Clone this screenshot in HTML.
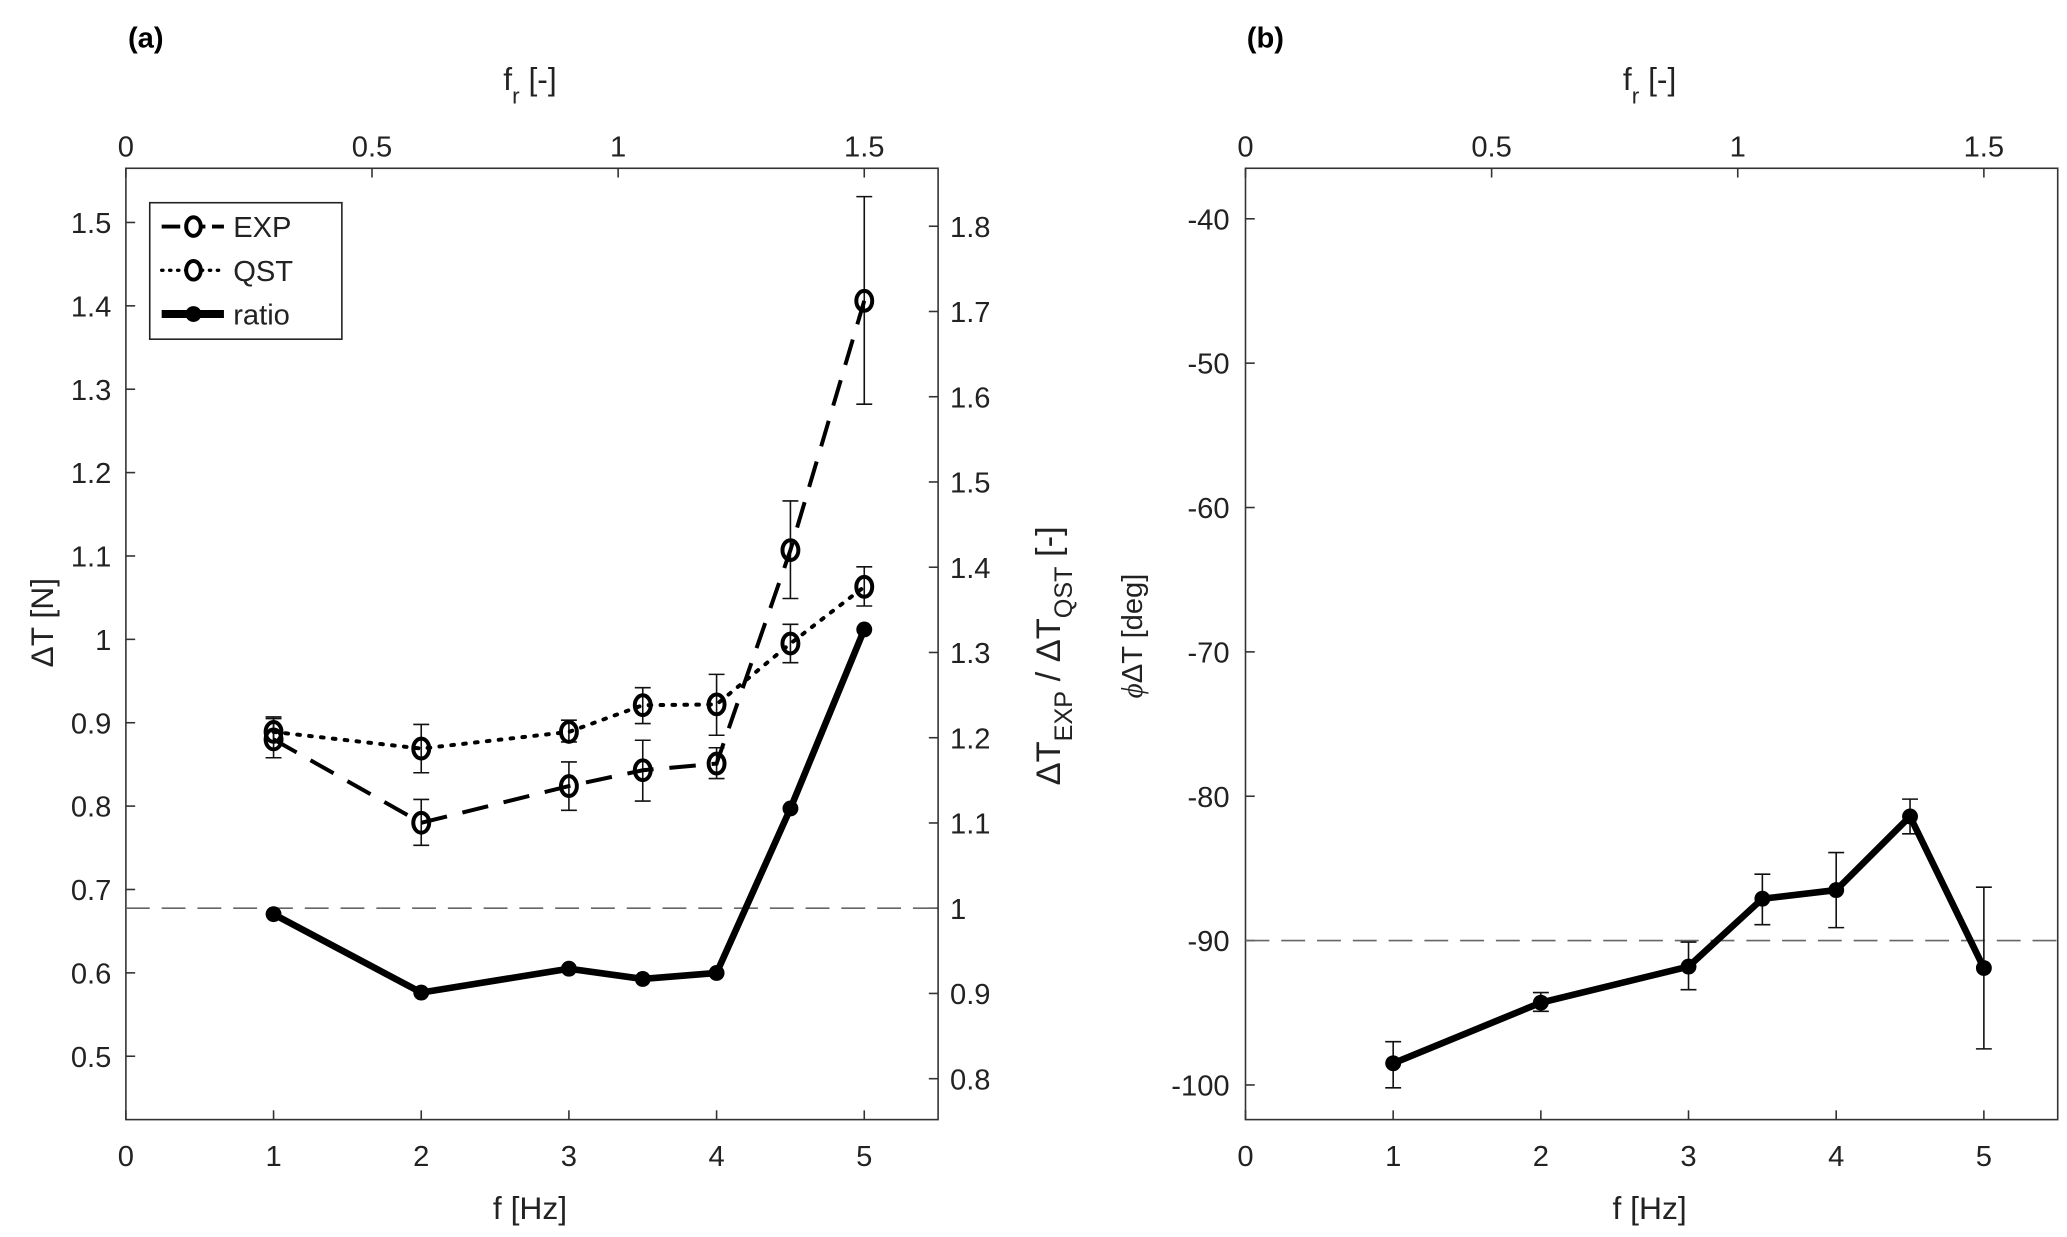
<!DOCTYPE html>
<html><head><meta charset="utf-8"><style>
html,body{margin:0;padding:0;background:#fff;}
svg{display:block;font-family:"Liberation Sans",sans-serif;}
</style></head><body>
<svg id="fig" width="2067" height="1237" viewBox="0 0 1560 933.6" xmlns="http://www.w3.org/2000/svg">
<g id="root"></g>
</svg>
<script>
const freqs=[1,2,3,3.5,4,4.5,5];
const expVals=[0.88,0.78,0.824,0.843,0.851,1.107,1.406];
const expLo=[0.858,0.753,0.795,0.806,0.833,1.049,1.282];
const expHi=[0.905,0.808,0.853,0.879,0.870,1.166,1.531];
const qstVals=[0.889,0.869,0.889,0.921,0.922,0.995,1.063];
const qstLo=[0.878,0.840,0.877,0.899,0.885,0.972,1.040];
const qstHi=[0.907,0.898,0.903,0.942,0.958,1.018,1.087];
const ratioVals=[0.993,0.901,0.929,0.917,0.924,1.117,1.327];
const phaseVals=[-98.5,-94.3,-91.8,-87.1,-86.5,-81.4,-91.9];
const phaseLo=[-100.2,-94.9,-93.4,-88.9,-89.1,-82.6,-97.5];
const phaseHi=[-97.0,-93.6,-90.1,-85.4,-83.9,-80.2,-86.3];
const xTicks=[0,1,2,3,4,5];
const frTicks=[0,0.5,1,1.5];
const leftTicks=[0.5,0.6,0.7,0.8,0.9,1,1.1,1.2,1.3,1.4,1.5];
const rightTicks=[0.8,0.9,1,1.1,1.2,1.3,1.4,1.5,1.6,1.7,1.8];
const phaseTicks=[-100,-90,-80,-70,-60,-50,-40];

const NS="http://www.w3.org/2000/svg";
const root=document.getElementById('root');
function mk(tag,attrs,parent){const e=document.createElementNS(NS,tag);for(const k in attrs)e.setAttribute(k,attrs[k]);(parent||root).appendChild(e);return e;}
function txt(s,x,y,attrs,parent){const e=mk('text',Object.assign({x:x,y:y,'font-size':22,fill:'#222','text-anchor':'middle'},attrs),parent);e.textContent=s;return e;}
function lin(a0,a1,p0,p1){return v=>p0+(v-a0)/(a1-a0)*(p1-p0);}

const T=127,B=845;
const ax=lin(0,5.5,95,708);
const frx=lin(0,1.65,95,708);
const ly=lin(0.424,1.565,B,T);
const ry=lin(0.752,1.868,B,T);
const bx=lin(0,5.5,940,1553);
const bfr=lin(0,1.65,940,1553);
const py=lin(-102.4,-36.5,B,T);

function frame(x0,x1,name){
  const g=mk('g',{});
  
  
  mk('rect',{x:x0,y:T,width:x1-x0,height:B-T,fill:'none',stroke:'#333','stroke-width':1.2},g);
  return g;
}
function xAxes(g,xs,frs){
  xTicks.forEach(t=>{const x=xs(t);mk('line',{x1:x,y1:B,x2:x,y2:B-7,stroke:'#333','stroke-width':1.2},g);
    const l=txt(String(t),x,880,{},g);});
  frTicks.forEach(t=>{const x=frs(t);mk('line',{x1:x,y1:T,x2:x,y2:T+7,stroke:'#333','stroke-width':1.2},g);
    const l=txt(String(t),x,118,{},g);});
}
function errbars(g,xs,ys,lo,hi,name){
  freqs.forEach((f,i)=>{const x=xs(f);
    const e=mk('path',{d:`M${x},${ys(lo[i])}V${ys(hi[i])}M${x-6},${ys(lo[i])}H${x+6}M${x-6},${ys(hi[i])}H${x+6}`,stroke:'#111','stroke-width':1.2,fill:'none'},g);
    });
}
function series(g,xs,ys,vals,opts,name,filled){
  const d=freqs.map((f,i)=>(i?'L':'M')+xs(f)+','+ys(vals[i])).join('');
  const p=mk('path',Object.assign({d:d,fill:'none',stroke:'#000'},opts),g);
  
  freqs.forEach((f,i)=>{
    const c=filled?mk('circle',{cx:xs(f),cy:ys(vals[i]),r:6,fill:'#000'},g):
      mk('ellipse',{cx:xs(f),cy:ys(vals[i]),rx:6,ry:7.5,fill:'none',stroke:'#000','stroke-width':3},g);
    
  });
}

const ga=frame(95,708,'panel-a-axes');
xAxes(ga,ax,frx);
leftTicks.forEach(t=>{const y=ly(t);mk('line',{x1:95,y1:y,x2:102,y2:y,stroke:'#333','stroke-width':1.2},ga);
  const l=txt(String(t),84,y+8,{'text-anchor':'end'},ga);});
rightTicks.forEach(t=>{const y=ry(t);mk('line',{x1:708,y1:y,x2:701,y2:y,stroke:'#333','stroke-width':1.2},ga);
  const l=txt(String(t),717,y+8,{'text-anchor':'start'},ga);});
const refA=mk('line',{x1:95,x2:708,y1:ry(1),y2:ry(1),stroke:'#666','stroke-width':1.2,'stroke-dasharray':'18,9'},ga);

errbars(ga,ax,ly,expLo,expHi,'exp-error-bar');
errbars(ga,ax,ly,qstLo,qstHi,'qst-error-bar');
series(ga,ax,ly,expVals,{'stroke-width':3,'stroke-dasharray':'20,12'},'exp',false);
series(ga,ax,ly,qstVals,{'stroke-width':3,'stroke-dasharray':'2,7','stroke-linecap':'round'},'qst',false);
series(ga,ax,ry,ratioVals,{'stroke-width':5},'ratio',true);
let l;
l=txt('(a)',110,36,{'font-weight':'bold','font-size':22,fill:'#000'});
l=txt('',400,68,{'font-size':24});l.innerHTML='f<tspan dy="10" font-size="17">r</tspan><tspan dy="-10"> [-]</tspan>';
l=txt('f [Hz]',400,920,{'font-size':24});
l=txt('ΔT [N]',0,0,{'font-size':24,transform:'translate(40,470) rotate(-90)'});
l=txt('',0,0,{'font-size':26,transform:'translate(800,495) rotate(-90)'});l.innerHTML='ΔT<tspan dy="9" font-size="19">EXP</tspan><tspan dy="-9"> / ΔT</tspan><tspan dy="9" font-size="19">QST</tspan><tspan dy="-9"> [-]</tspan>';
const lg=mk('g',{});


mk('rect',{x:113,y:153,width:145,height:103,fill:'#fff',stroke:'#222','stroke-width':1.2},lg);
const legendNames=['EXP','QST','ratio'];
legendNames.forEach((n,i)=>{const y=171+i*33;
  const e=mk('g',{},lg);
  
  
  if(i===0)mk('line',{x1:122,x2:169,y1:y,y2:y,stroke:'#000','stroke-width':3,'stroke-dasharray':'14,5'},e);
  if(i===1)mk('line',{x1:122,x2:169,y1:y,y2:y,stroke:'#000','stroke-width':2.5,'stroke-dasharray':'1,5','stroke-linecap':'round'},e);
  if(i===2)mk('line',{x1:122,x2:169,y1:y,y2:y,stroke:'#000','stroke-width':6},e);
  if(i<2)mk('ellipse',{cx:146,cy:y,rx:5.5,ry:7,fill:'#fff',stroke:'#000','stroke-width':3},e);
  else mk('circle',{cx:146,cy:y,r:6,fill:'#000'},e);
  txt(n,176,y+8,{'text-anchor':'start','font-size':22},e);
});

const gb=frame(940,1553,'panel-b-axes');
xAxes(gb,bx,bfr);
phaseTicks.forEach(t=>{const y=py(t);mk('line',{x1:940,y1:y,x2:947,y2:y,stroke:'#333','stroke-width':1.2},gb);
  const l=txt(String(t),928,y+8,{'text-anchor':'end'},gb);});
const refB=mk('line',{x1:940,x2:1553,y1:py(-90),y2:py(-90),stroke:'#666','stroke-width':1.2,'stroke-dasharray':'18,9'},gb);

errbars(gb,bx,py,phaseLo,phaseHi,'phase-error-bar');
series(gb,bx,py,phaseVals,{'stroke-width':5},'phase',true);
l=txt('(b)',955,36,{'font-weight':'bold','font-size':22,fill:'#000'});
l=txt('',1245,68,{'font-size':24});l.innerHTML='f<tspan dy="10" font-size="17">r</tspan><tspan dy="-10"> [-]</tspan>';
l=txt('f [Hz]',1245,920,{'font-size':24});
l=txt('',0,0,{'font-size':22,transform:'translate(862,480) rotate(-90)'});l.innerHTML='<tspan font-style="italic" font-family="Liberation Serif">ϕ</tspan>ΔT [deg]';
</script>
</body></html>
